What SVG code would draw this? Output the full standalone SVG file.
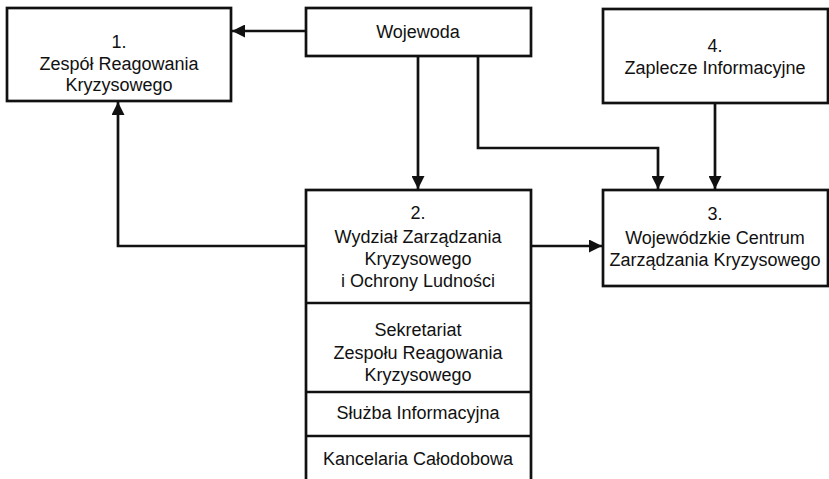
<svg xmlns="http://www.w3.org/2000/svg" width="829" height="479" viewBox="0 0 829 479">
<defs>
<style>
.box{fill:#fff;stroke:#111;stroke-width:2.7}
.ln{fill:none;stroke:#111;stroke-width:2.7}
text{font-family:"Liberation Sans",Arial,Helvetica,sans-serif;font-size:18px;fill:#111;text-anchor:middle}
</style>
<marker id="ah" viewBox="0 0 13 13" refX="13" refY="6.5" markerWidth="13" markerHeight="13" markerUnits="userSpaceOnUse" orient="auto">
<path d="M0,0 L13,6.5 L0,13 Z" fill="#111"/>
</marker>
</defs>
<rect width="829" height="479" fill="#fff"/>
<g id="connectors">
<path class="ln" d="M306,31 H232" marker-end="url(#ah)"/>
<path class="ln" d="M418,56 V189" marker-end="url(#ah)"/>
<path class="ln" d="M478,56 V148 H658 V189" marker-end="url(#ah)"/>
<path class="ln" d="M715,103 V189" marker-end="url(#ah)"/>
<path class="ln" d="M531,246 H602" marker-end="url(#ah)"/>
<path class="ln" d="M306,246 H118 V102" marker-end="url(#ah)"/>
</g>
<g id="n1">
<rect class="box" x="7" y="8" width="224" height="93"/>
<text x="119" y="48">1.</text>
<text x="119" y="70">Zespół Reagowania</text>
<text x="119" y="91">Kryzysowego</text>
</g>
<g id="wojewoda">
<rect class="box" x="306" y="8" width="225" height="48"/>
<text x="418" y="38">Wojewoda</text>
</g>
<g id="n4">
<rect class="box" x="603" y="9" width="225" height="94"/>
<text x="715" y="52">4.</text>
<text x="715" y="74">Zaplecze Informacyjne</text>
</g>
<g id="n3">
<rect class="box" x="603" y="190" width="225" height="96"/>
<text x="715" y="220">3.</text>
<text x="715" y="244">Wojewódzkie Centrum</text>
<text x="715" y="266">Zarządzania Kryzysowego</text>
</g>
<g id="n2">
<rect class="box" x="306" y="190" width="225" height="300"/>
<line class="ln" x1="306" y1="303" x2="531" y2="303"/>
<line class="ln" x1="306" y1="392" x2="531" y2="392"/>
<line class="ln" x1="306" y1="436" x2="531" y2="436"/>
<text x="418" y="219">2.</text>
<text x="418" y="243">Wydział Zarządzania</text>
<text x="418" y="265">Kryzysowego</text>
<text x="418" y="287">i Ochrony Ludności</text>
<text x="418" y="336">Sekretariat</text>
<text x="418" y="359">Zespołu Reagowania</text>
<text x="418" y="381">Kryzysowego</text>
<text x="418" y="419">Służba Informacyjna</text>
<text x="418" y="465">Kancelaria Całodobowa</text>
</g>
</svg>
